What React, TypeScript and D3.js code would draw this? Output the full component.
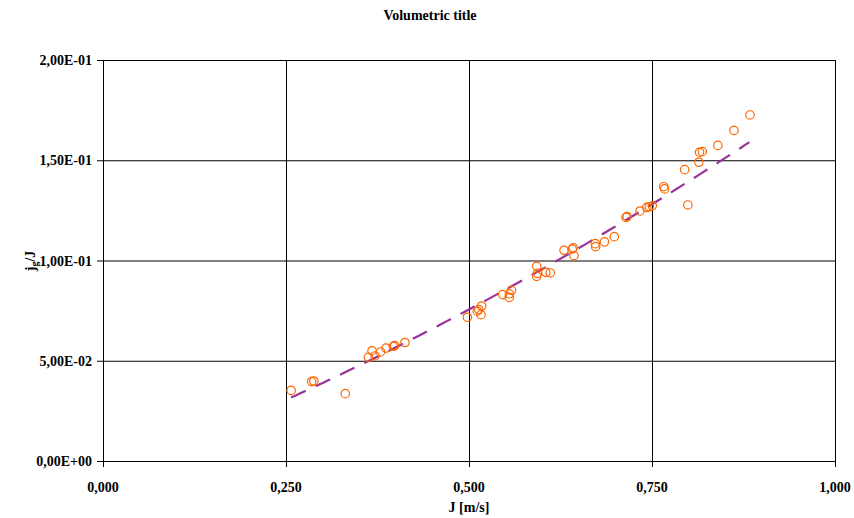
import React from "react";
import * as d3 from "d3";

// Measured superficial velocity J [m/s]
const jValues = [
  0.257, 0.285, 0.288, 0.331, 0.3625, 0.3675, 0.3716, 0.379, 0.3866, 0.3966,
  0.3985, 0.4125, 0.4977, 0.5113, 0.5133, 0.5173, 0.5164, 0.546, 0.555, 0.555,
  0.558, 0.5925, 0.5925, 0.5935, 0.605, 0.611, 0.6298, 0.641, 0.6425, 0.6434,
  0.6725, 0.673, 0.685, 0.6985, 0.7145, 0.716, 0.7336, 0.7428, 0.7463, 0.7504,
  0.766, 0.7673, 0.7946, 0.799, 0.814, 0.815, 0.8187, 0.84, 0.862, 0.8839,
];

// Gas volumetric fraction jg/J
const ratioValues = [
  0.0352, 0.0396, 0.0399, 0.0336, 0.0517, 0.055, 0.0524, 0.0544, 0.0563, 0.0572,
  0.0576, 0.0591, 0.0717, 0.0747, 0.0755, 0.0773, 0.073, 0.083, 0.0834, 0.0816,
  0.0851, 0.0971, 0.0921, 0.0936, 0.0941, 0.0938, 0.1051, 0.1057, 0.1063, 0.1024,
  0.1084, 0.1069, 0.1093, 0.1119, 0.1215, 0.1219, 0.1247, 0.1265, 0.1268, 0.1273,
  0.1368, 0.1357, 0.1453, 0.1277, 0.149, 0.154, 0.1543, 0.1574, 0.1649, 0.1726,
];

// Polynomial trendline (order 2): c0 + c1*J + c2*J^2, drawn over the J span below
const trendCoefficients = [-0.00714, 0.1358, 0.0593];
const trendSpan = [0.257, 0.883];

const xTicks = [0, 0.25, 0.5, 0.75, 1.0];
const yTicks = [0, 0.05, 0.1, 0.15, 0.2];

const title = "Volumetric title";
const xTitle = "J [m/s]";

export default function App() {
  const width = 854;
  const height = 518;
  const left = 103, right = 835, top = 60, bottom = 461;

  const x = d3.scaleLinear().domain([0, 1]).range([left, right]);
  const y = d3.scaleLinear().domain([0, 0.2]).range([bottom, top]);

  const points = jValues.map((j, i) => ({ j, r: ratioValues[i] }));
  const [c0, c1, c2] = trendCoefficients;
  const trend = d3.range(0, 101).map((k) => {
    const j = trendSpan[0] + ((trendSpan[1] - trendSpan[0]) * k) / 100;
    return [j, c0 + c1 * j + c2 * j * j] as [number, number];
  });
  const line = d3
    .line<[number, number]>()
    .x((d) => x(d[0]))
    .y((d) => y(d[1]));

  const font = "'Liberation Serif', 'Times New Roman', serif";
  const fmtX = (v: number) => v.toFixed(3).replace(".", ",");
  const fmtY = (v: number) => {
    const s = v.toExponential(2);
    const [m, e] = s.split("e");
    const ev = parseInt(e, 10);
    const es = (ev < 0 ? "-" : "+") + String(Math.abs(ev)).padStart(2, "0");
    return m.replace(".", ",") + "E" + es;
  };

  return (
    <svg
      width={width}
      height={height}
      style={{ position: "absolute", left: 0, top: 0, background: "#fff" }}
      fontFamily={font}
      fontWeight="bold"
    >
      <rect x={0} y={0} width={width} height={height} fill="#fff" />
      <text x={430} y={20} textAnchor="middle" fontSize={14}>
        {title}
      </text>

      {/* grid */}
      {yTicks.filter((t) => t > 0).map((t) => (
        <line key={"gy" + t} x1={left} x2={right} y1={y(t) + 0.5} y2={y(t) + 0.5} stroke="#000" strokeWidth={1} />
      ))}
      {xTicks.filter((t) => t > 0).map((t) => (
        <line key={"gx" + t} x1={Math.round(x(t)) + 0.5} x2={Math.round(x(t)) + 0.5} y1={top} y2={bottom} stroke="#000" strokeWidth={1} />
      ))}

      {/* axes */}
      <line x1={left + 0.5} x2={left + 0.5} y1={top} y2={bottom + 6} stroke="#000" />
      <line x1={left - 6} x2={right} y1={bottom + 0.5} y2={bottom + 0.5} stroke="#000" />
      {yTicks.map((t) => (
        <g key={"ty" + t}>
          <line x1={left - 6} x2={left} y1={y(t) + 0.5} y2={y(t) + 0.5} stroke="#000" />
          <text x={left - 11} y={y(t) + 5} textAnchor="end" fontSize={14}>
            {fmtY(t)}
          </text>
        </g>
      ))}
      {xTicks.map((t) => (
        <g key={"tx" + t}>
          <line x1={Math.round(x(t)) + 0.5} x2={Math.round(x(t)) + 0.5} y1={bottom - 5} y2={bottom + 6} stroke="#000" />
          <text x={x(t)} y={492} textAnchor="middle" fontSize={14}>
            {fmtX(t)}
          </text>
        </g>
      ))}

      <text x={469} y={512} textAnchor="middle" fontSize={14}>
        {xTitle}
      </text>
      <text transform="translate(35,261) rotate(-90)" textAnchor="middle" fontSize={14}>
        j<tspan fontSize={10} dy={3}>g</tspan>
        <tspan dy={-3}>/J</tspan>
      </text>

      {/* trendline */}
      <path
        d={line(trend) || ""}
        fill="none"
        stroke="#993399"
        strokeWidth={2.2}
        strokeDasharray="16,11"
      />

      {/* measurements */}
      {points.map((p, i) => (
        <circle key={i} cx={x(p.j)} cy={y(p.r)} r={4.2} fill="none" stroke="#ff6600" strokeWidth={1.2} />
      ))}
    </svg>
  );
}
